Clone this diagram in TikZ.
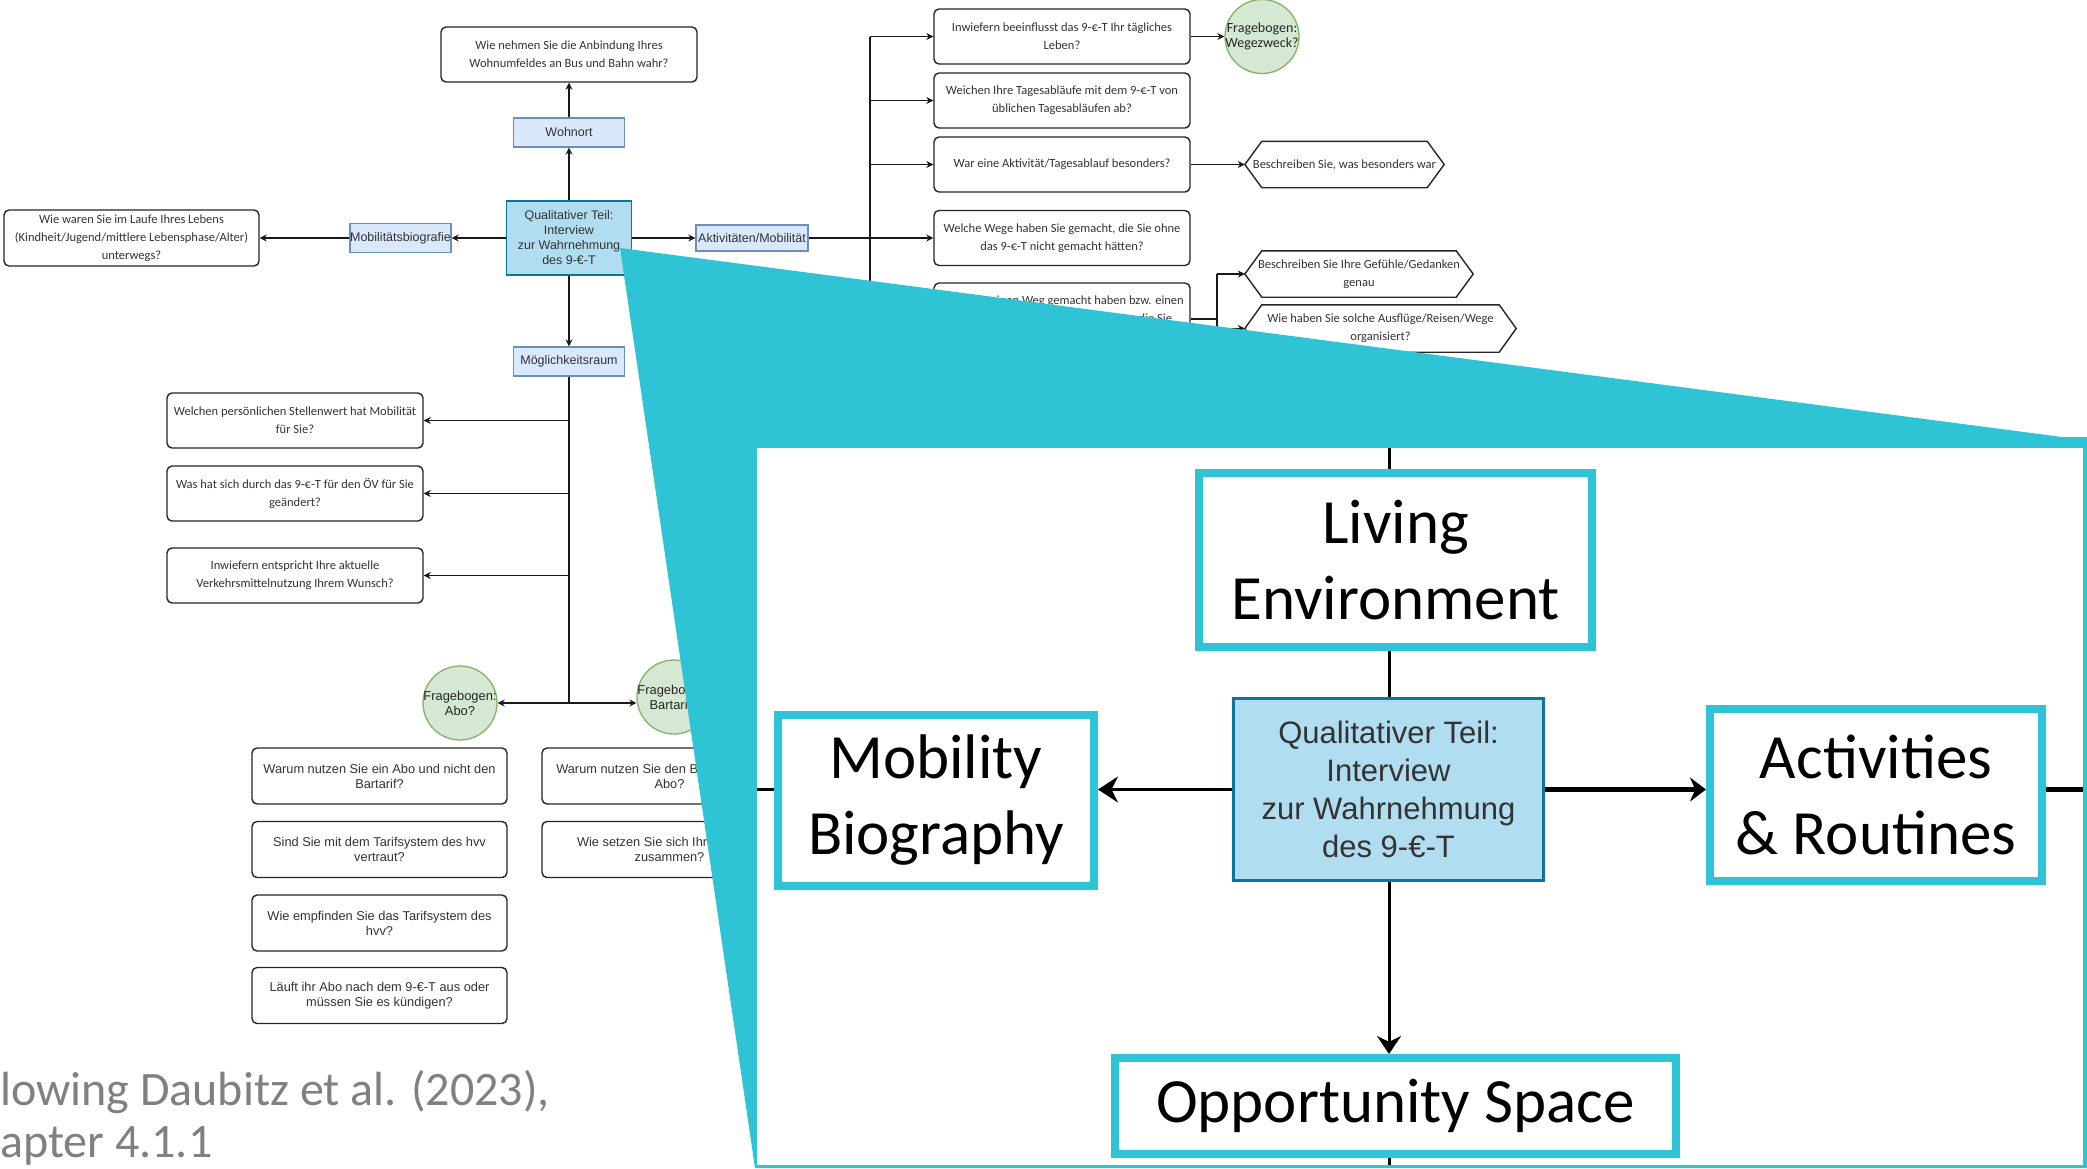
\documentclass[tikz,border=0pt]{standalone}
\usepackage{fontspec}
\setmainfont{Carlito}
\newfontfamily\arialfont{Liberation Sans}
\usetikzlibrary{arrows.meta}
\definecolor{lensteal}{HTML}{2EC4D6}
\definecolor{coreblue}{HTML}{B1DDF0}
\definecolor{coreline}{HTML}{10739E}
\definecolor{tagfill}{HTML}{DAE8FC}
\definecolor{tagline}{HTML}{6C8EBF}
\definecolor{qgreen}{HTML}{D5E8D4}
\definecolor{qgreenline}{HTML}{82B366}
\definecolor{capgrey}{HTML}{808080}
\newcommand{\spill}[1]{\makebox[0pt]{#1}}

\begin{document}
\begin{tikzpicture}[x=1pt,y=-1pt,
  lnk/.style={draw=black!90,line width=1.3pt},
  arr/.style={lnk,-{Stealth[length=7pt,width=7pt]}},
  qbox/.style={draw=black!85,line width=1.4pt,rounded corners=5pt,fill=white,minimum width=256,minimum height=55,inner sep=0pt,align=center,text=black!80,font=\fontsize{12.5}{18}\selectfont},
  abox/.style={qbox,minimum width=255,minimum height=56,font=\arialfont\fontsize{12.8}{15}\selectfont},
  tagbox/.style={draw=tagline,fill=tagfill,line width=1.3pt,minimum width=111,minimum height=29,inner sep=0pt,text=black!80,font=\arialfont\fontsize{12.5}{15}\selectfont},
  coresmall/.style={draw=coreline,fill=coreblue,line width=1.3pt,minimum width=125,minimum height=74,inner sep=0pt,align=center,text=black!80,font=\arialfont\fontsize{12.5}{15}\selectfont},
  qcirc/.style={circle,draw=qgreenline,fill=qgreen,line width=1.3pt,minimum size=74,inner sep=0pt,align=center,text=black!85},
  hexbox/.style={minimum height=46,inner sep=0pt,align=center,text=black!80,font=\fontsize{12.5}{18}\selectfont},
  hexline/.style={draw=black!85,line width=1.4pt},
  capline/.style={inner sep=0pt,text=capgrey,font=\fontsize{48}{53}\selectfont},
  lensbox/.style={draw=lensteal,line width=8pt,fill=white,inner sep=0pt,align=center,font=\fontsize{63}{76}\selectfont},
  lenslink/.style={draw=black,line width=3pt},
  lensarr/.style={lenslink,-{Stealth[length=18pt,width=24pt]}}]
  \useasboundingbox (0,0) rectangle (2087,1168);
  \fill[white] (0,0) rectangle (2087,1168);

  % interview guide
  \node[coresmall] (qt) at (569,238) {Qualitativer Teil:\\Interview\\zur Wahrnehmung\\des 9-€-T};
  \node[tagbox] (wohnort) at (569,132.5) {Wohnort};
  \node[qbox] (qwohn) at (569,54.5) {Wie nehmen Sie die Anbindung Ihres\\Wohnumfeldes an Bus und Bahn wahr?};
  \draw[arr] (qt.north) -- (wohnort.south);
  \draw[arr] (wohnort.north) -- (qwohn.south);

  \node[tagbox,minimum width=101] (mobbio) at (400.5,238) {\spill{Mobilitätsbiografie}};
  \node[qbox,minimum width=255,minimum height=56] (qbio) at (131.5,238) {Wie waren Sie im Laufe Ihres Lebens\\(Kindheit/Jugend/mittlere Lebensphase/Alter)\\unterwegs?};
  \draw[arr] (qt.west) -- (mobbio.east);
  \draw[arr] (mobbio.west) -- (qbio.east);

  \node[tagbox,minimum width=112,minimum height=26] (akt) at (752,238) {\spill{Aktivitäten/Mobilität}};
  \draw[arr] (qt.east) -- (akt.west);
  \coordinate (atop) at (870,36.5);
  \coordinate (abot) at (870,319);
  \draw[lnk] (atop) -- (abot);
  \foreach \n/\yy/\txt in {a1/36.5/{Inwiefern beeinflusst das 9-€-T Ihr tägliches\\Leben?},
      a2/100.5/{Weichen Ihre Tagesabläufe mit dem 9-€-T von\\üblichen Tagesabläufen ab?},
      a3/164.5/{War eine Aktivität/Tagesablauf besonders?}}{
    \node[qbox] (\n) at (1062,\yy) {\txt};
    \draw[arr] (atop |- \n.west) -- (\n.west);
  }
  \node[qbox] (a4) at (1062,238) {Welche Wege haben Sie gemacht, die Sie ohne\\das 9-€-T nicht gemacht hätten?};
  \draw[arr] (akt.east) -- (a4.west);
  \node[qbox,minimum height=72] (a5) at (1062,319) {Wenn Sie einen Weg gemacht haben bzw. einen\\Ausflug/Reise unternommen haben, die Sie\\ohne das 9-€-T nicht gemacht hätten:};
  \draw[arr] (atop |- a5.west) -- (a5.west);

  \node[qcirc,font=\fontsize{14}{15}\selectfont] (fwz) at (1262,36.5) {\spill{Fragebogen:}\\\spill{Wegezweck?}};
  \draw[arr] (a1.east) -- (fwz.west);

  \node[hexbox,minimum width=199] (hx1) at (1344.5,164.5) {Beschreiben Sie, was besonders war};
  \node[hexbox,minimum width=228] (hx2) at (1359,274) {Beschreiben Sie Ihre Gefühle/Gedanken\\genau};
  \node[hexbox,minimum width=271,minimum height=47] (hx3) at (1380.5,328.5) {Wie haben Sie solche Ausflüge/Reisen/Wege\\organisiert?};
  \foreach \h in {hx1,hx2,hx3}
    \draw[hexline] (\h.west) -- ([xshift=17pt]\h.north west) -- ([xshift=-17pt]\h.north east) -- (\h.east) -- ([xshift=-17pt]\h.south east) -- ([xshift=17pt]\h.south west) -- cycle;
  \draw[arr] (a3.east) -- (hx1.west);
  \coordinate (htop) at (1217,274);
  \coordinate (hbot) at (1217,328.5);
  \draw[lnk] (a5.east) -- (a5.east -| htop);
  \draw[lnk] (htop) -- (hbot);
  \draw[arr] (htop) -- (hx2.west);
  \draw[arr] (hbot) -- (hx3.west);

  \node[tagbox] (mgl) at (569,361.5) {Möglichkeitsraum};
  \draw[arr] (qt.south) -- (mgl.north);
  \coordinate (mbot) at (569,703);
  \draw[lnk] (mgl.south) -- (mbot);
  \foreach \n/\yy/\txt in {m1/420.5/{Welchen persönlichen Stellenwert hat Mobilität\\für Sie?},
      m2/493.5/{Was hat sich durch das 9-€-T für den ÖV für Sie\\geändert?},
      m3/575.5/{Inwiefern entspricht Ihre aktuelle\\Verkehrsmittelnutzung Ihrem Wunsch?}}{
    \node[qbox] (\n) at (295,\yy) {\txt};
    \draw[arr] (mbot |- \n.east) -- (\n.east);
  }
  \node[qcirc,font=\arialfont\fontsize{12.9}{15}\selectfont] (fabo) at (460,703) {\spill{Fragebogen:}\\\spill{Abo?}};
  \node[qcirc,font=\arialfont\fontsize{12.9}{15}\selectfont] (fbar) at (674,697) {\spill{Fragebogen:}\\\spill{Bartarif?}};
  \draw[arr] (mbot) -- (fabo.east);
  \draw[arr] (mbot) -- (mbot -| fbar.west);
  \foreach \n/\xx/\yy/\txt in {b1/379.5/776/{Warum nutzen Sie ein Abo und nicht den\\Bartarif?},
      b2/379.5/849.5/{Sind Sie mit dem Tarifsystem des hvv\\vertraut?},
      b3/379.5/923/{Wie empfinden Sie das Tarifsystem des\\hvv?},
      b4/379.5/995.5/{Läuft ihr Abo nach dem 9-€-T aus oder\\müssen Sie es kündigen?},
      b5/669.5/776/{Warum nutzen Sie den Bartarif und kein\\Abo?},
      b6/669.5/849.5/{Wie setzen Sie sich Ihre Fahrten\\zusammen?}}
    \node[abox] (\n) at (\xx,\yy) {\txt};

  \node[capline,anchor=base west] (cap1) at (0,1105) {lowing Daubitz et al. (2023),};
  \node[capline,anchor=base west] (cap2) at (0,1157) {apter 4.1.1};

  % magnifier
  \fill[lensteal] (620,248) -- (2062,437) -- (2087,437) -- (2087,1168) -- (755,1168) -- cycle;
  \fill[white] (757,448) rectangle (2083,1165);

  \node[draw=coreline,line width=3pt,fill=coreblue,minimum width=310,minimum height=182,inner sep=0pt,align=center,text=black!80,font=\arialfont\fontsize{31}{38}\selectfont] (ict) at (1388.5,789.5) {Qualitativer Teil:\\Interview\\zur Wahrnehmung\\des 9-€-T};
  \node[lensbox,minimum width=393,minimum height=174] (ile) at (1395.5,560) {Living\\Environment};
  \node[lensbox,minimum width=316,minimum height=171] (imb) at (936,800.5) {Mobility\\Biography};
  \node[lensbox,minimum width=332,minimum height=172] (iar) at (1876,795) {Activities\\\& Routines};
  \node[lensbox,minimum width=561,minimum height=96] (ios) at (1395.5,1106) {Opportunity Space};
  \coordinate (itop) at (1389,448);
  \coordinate (ibot) at (1389,1165);
  \coordinate (ileft) at (757,789.5);
  \coordinate (iright) at (2083,789.5);
  \draw[lenslink] (itop) -- (itop |- ile.north);
  \draw[lenslink] (ile.south -| itop) -- (ict.north -| itop);
  \draw[lensarr] (ict.south -| itop) -- (ios.north -| itop);
  \draw[lenslink] (ios.south -| ibot) -- (ibot);
  \draw[lenslink] (ileft) -- (ileft -| imb.west);
  \draw[lenslink,-{Stealth[length=20pt,width=26pt]}] (ict.west) -- (ict.west -| imb.east);
  \draw[lenslink,line width=5pt,-{Stealth[length=16pt,width=24pt]}] (ict.east) -- (ict.east -| iar.west);
  \draw[lenslink,line width=5pt] (iright -| iar.east) -- (iright);
\end{tikzpicture}
\end{document}
